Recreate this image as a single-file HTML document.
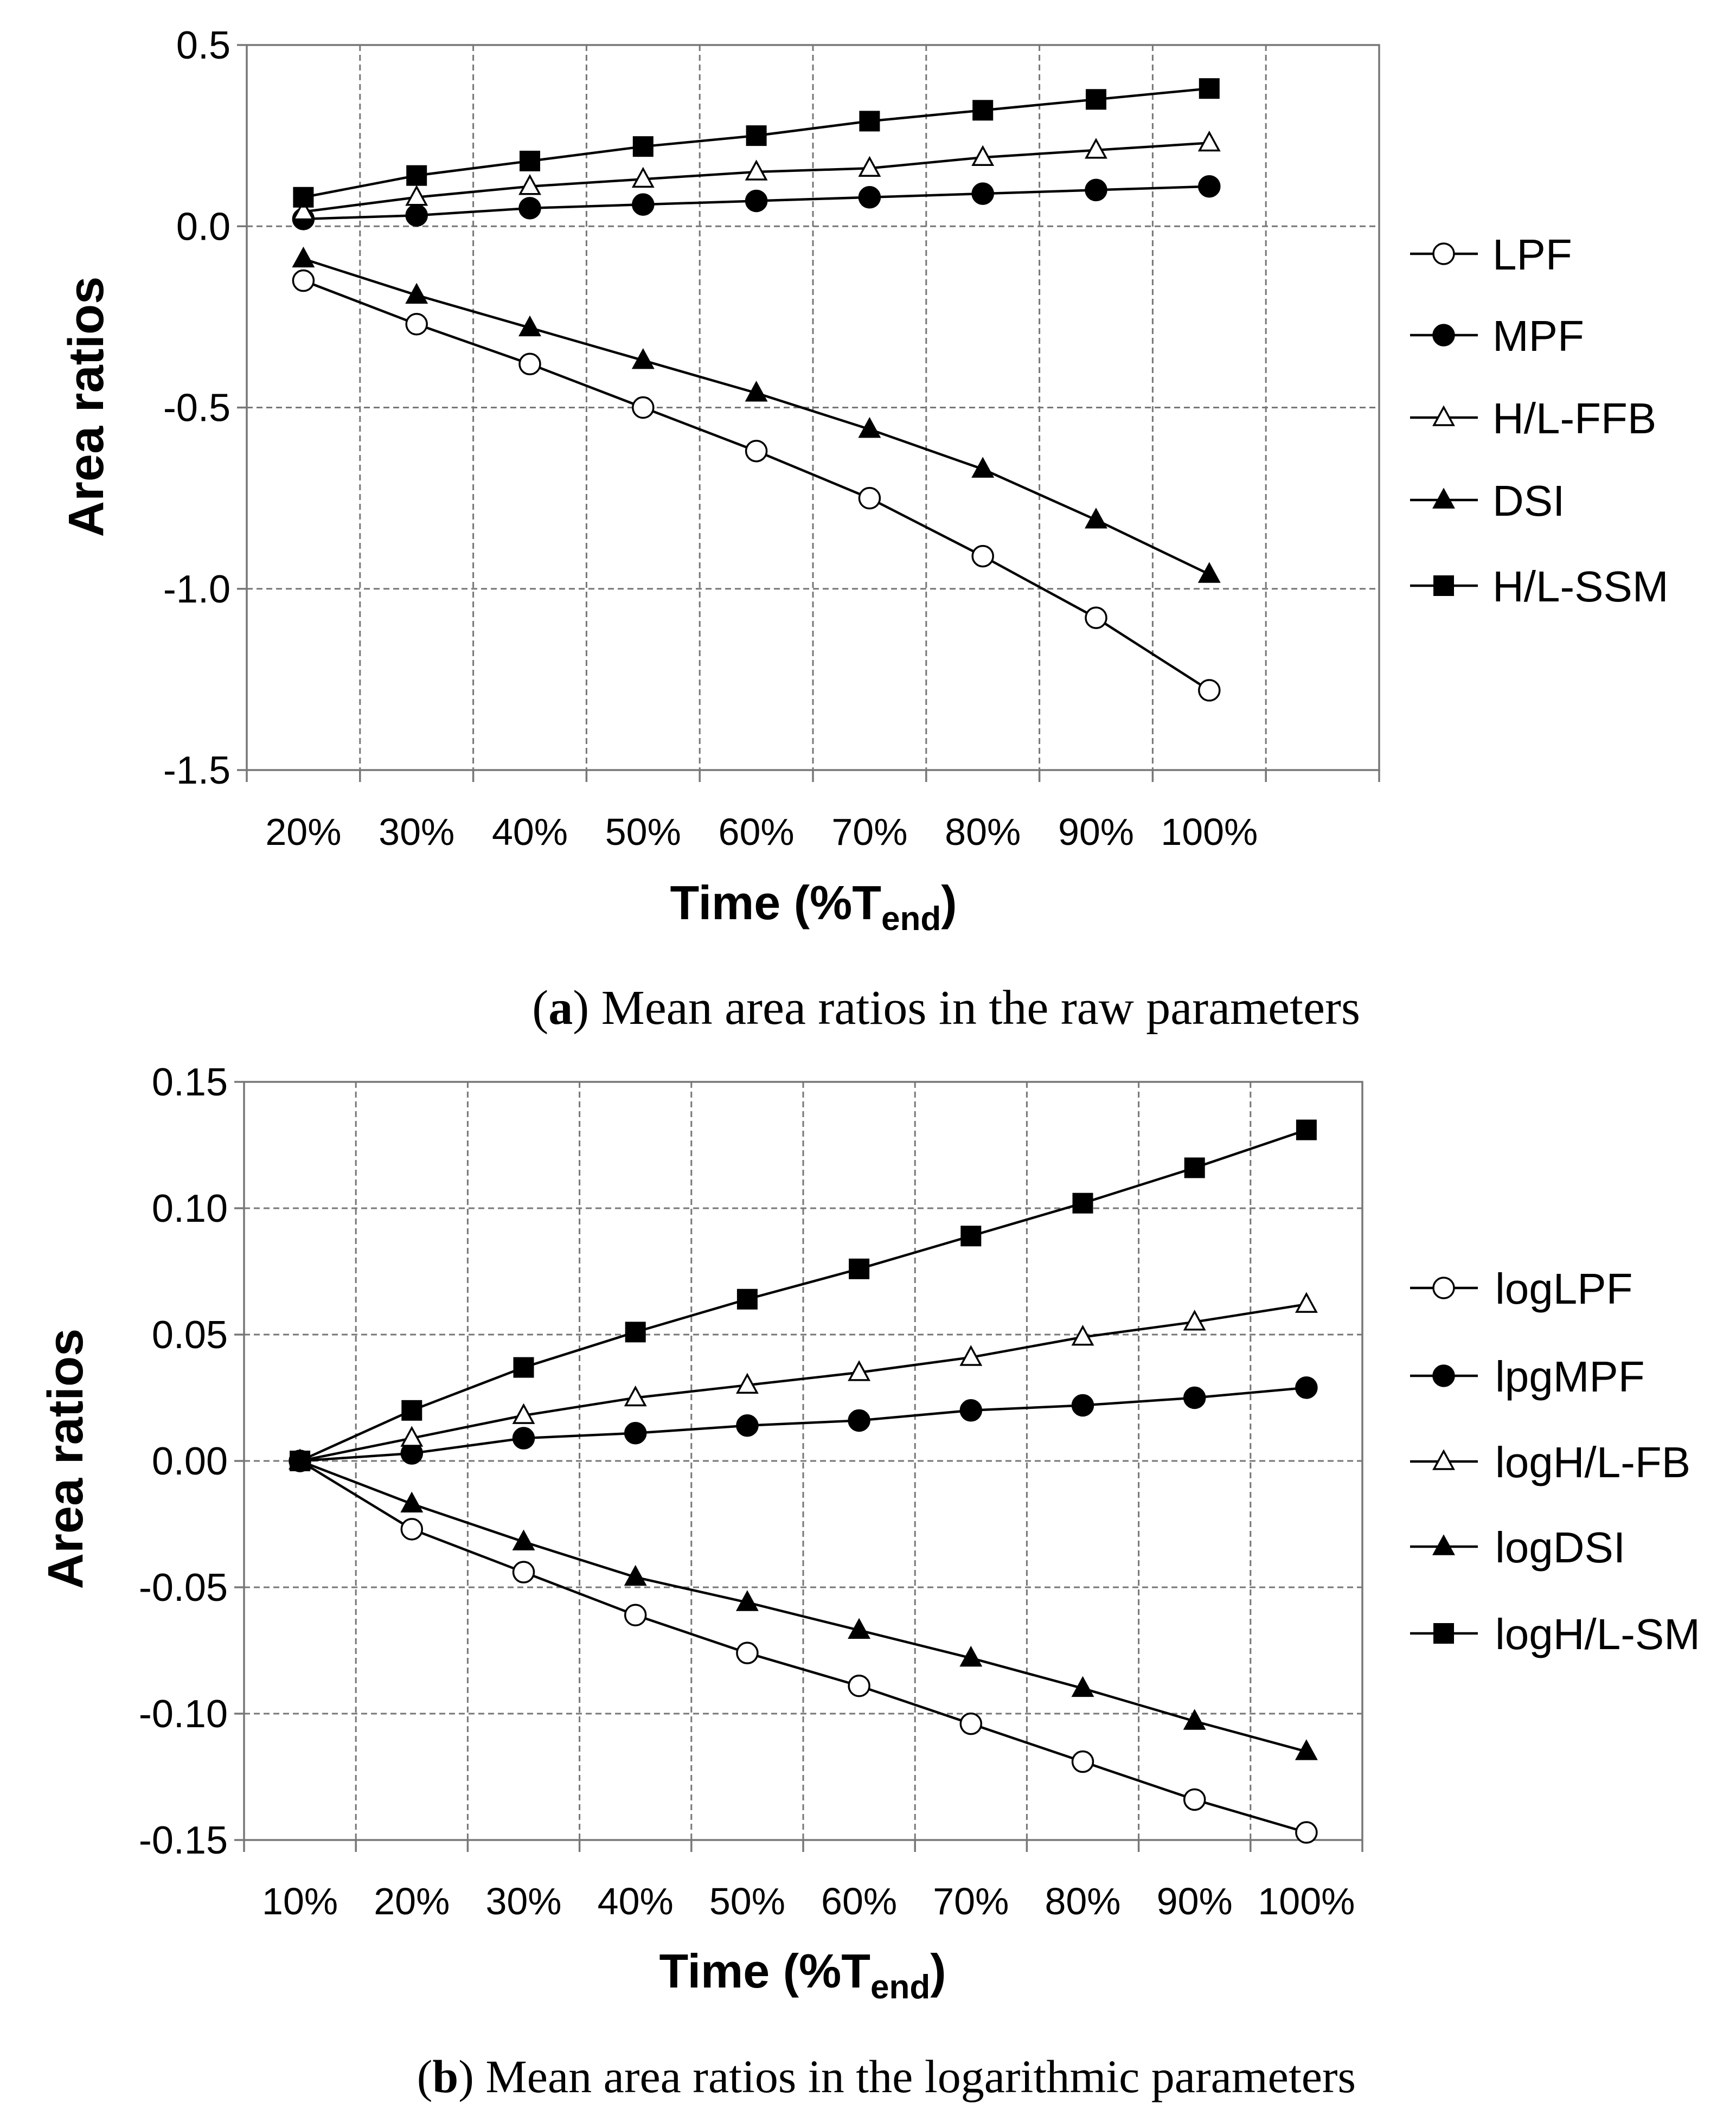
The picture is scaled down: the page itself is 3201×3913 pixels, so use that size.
<!DOCTYPE html>
<html><head><meta charset="utf-8"><style>
html,body{margin:0;padding:0;background:#fff;}
svg{display:block;}
text{font-family:"Liberation Sans",sans-serif;fill:#000;}
</style></head><body>
<svg id="fig" width="3201" height="3913" viewBox="0 0 3201 3913" xmlns="http://www.w3.org/2000/svg"></svg>
<script>
// ---- Chart (a) data ----
const catsA = ["20%","30%","40%","50%","60%","70%","80%","90%","100%"];
const yTicksA = [0.5,0.0,-0.5,-1.0,-1.5];
const yTickLabelsA = ["0.5","0.0","-0.5","-1.0","-1.5"];
const lpfA = [-0.15,-0.27,-0.38,-0.50,-0.62,-0.75,-0.91,-1.08,-1.28];
const mpfA = [0.02,0.03,0.05,0.06,0.07,0.08,0.09,0.10,0.11];
const ffbA = [0.04,0.08,0.11,0.13,0.15,0.16,0.19,0.21,0.23];
const dsiA = [-0.09,-0.19,-0.28,-0.37,-0.46,-0.56,-0.67,-0.81,-0.96];
const ssmA = [0.08,0.14,0.18,0.22,0.25,0.29,0.32,0.35,0.38];
const legendA = ["LPF","MPF","H/L-FFB","DSI","H/L-SSM"];
// ---- Chart (b) data ----
const catsB = ["10%","20%","30%","40%","50%","60%","70%","80%","90%","100%"];
const yTicksB = [0.15,0.10,0.05,0.00,-0.05,-0.10,-0.15];
const yTickLabelsB = ["0.15","0.10","0.05","0.00","-0.05","-0.10","-0.15"];
const lpfB = [0,-0.027,-0.044,-0.061,-0.076,-0.089,-0.104,-0.119,-0.134,-0.147];
const mpfB = [0,0.003,0.009,0.011,0.014,0.016,0.020,0.022,0.025,0.029];
const ffbB = [0,0.009,0.018,0.025,0.030,0.035,0.041,0.049,0.055,0.062];
const dsiB = [0,-0.017,-0.032,-0.046,-0.056,-0.067,-0.078,-0.090,-0.103,-0.115];
const ssmB = [0,0.020,0.037,0.051,0.064,0.076,0.089,0.102,0.116,0.131];
const legendB = ["logLPF","lpgMPF","logH/L-FB","logDSI","logH/L-SM"];

const NS="http://www.w3.org/2000/svg";
const svg=document.getElementById('fig');
function mk(tag,attrs,parent){const e=document.createElementNS(NS,tag);for(const k in attrs)e.setAttribute(k,attrs[k]);(parent||svg).appendChild(e);return e;}

function marker(g,kind,x,y){
  let e;
  if(kind==='oc'||kind==='fc'){e=mk('circle',{cx:x,cy:y,r:19,fill:kind==='oc'?'#fff':'#000',stroke:'#000','stroke-width':3.5},g);}
  else if(kind==='ot'||kind==='ft'){e=mk('polygon',{points:`${x},${y-19} ${x-18},${y+14} ${x+18},${y+14}`,fill:kind==='ot'?'#fff':'#000',stroke:'#000','stroke-width':3.5},g);}
  else {e=mk('rect',{x:x-19,y:y-19,width:38,height:38,fill:'#000'},g);}
  return e;
}

function chart(id,o){
  const g=mk('g',{});
  
  
  const L=o.left,R=o.right,T=o.top,B=o.bottom;
  const ymax=o.yTicks[0],ymin=o.yTicks[o.yTicks.length-1];
  const ys=v=>T+(ymax-v)/(ymax-ymin)*(B-T);
  const slot=(R-L)/o.nSlots;
  const xs=i=>L+slot*(i+0.5);
  o.yTicks.forEach((v,i)=>{
    const y=ys(v);
    if(i>0&&i<o.yTicks.length-1){const gl=mk('line',{x1:L,x2:R,y1:y,y2:y,stroke:'#777','stroke-width':3,'stroke-dasharray':'11,7'},g);}
    mk('line',{x1:L-18,x2:L,y1:y,y2:y,stroke:'#777','stroke-width':3.5},g);
    const t=mk('text',{x:L-30,y:y+25,'text-anchor':'end','font-size':72},g);t.textContent=o.yLabels[i];
    
  });
  for(let i=1;i<o.nSlots;i++){const x=L+slot*i;const gl=mk('line',{x1:x,x2:x,y1:T,y2:B,stroke:'#777','stroke-width':3,'stroke-dasharray':'11,7'},g);}
  for(let i=0;i<=o.nSlots;i++){const x=L+slot*i;mk('line',{x1:x,x2:x,y1:B,y2:B+22,stroke:'#777','stroke-width':3.5},g);}
  const frame=mk('rect',{x:L,y:T,width:R-L,height:B-T,fill:'none',stroke:'#777','stroke-width':3.5},g);
  
  o.cats.forEach((c,i)=>{const t=mk('text',{x:xs(i)+o.catOff,y:o.catY,'text-anchor':'middle','font-size':70},g);t.textContent=c;
    });
  const yt=mk('text',{x:0,y:0,'text-anchor':'middle','font-size':92,'font-weight':'bold',transform:`translate(${o.ytX},${o.ytY}) rotate(-90)`},g);
  yt.textContent='Area  ratios';yt.setAttribute('xml:space','preserve');
  
  const xt=mk('text',{x:o.xtX,y:o.xtY,'text-anchor':'middle','font-size':88,'font-weight':'bold'},g);
  xt.innerHTML='Time (%T<tspan font-size="62" dy="20">end</tspan><tspan dy="-20">)</tspan>';
  
  o.series.forEach((s,k)=>{
    const sg=mk('g',{},g);
    
    
    const pts=s.vals.map((v,i)=>xs(i)+','+ys(v)).join(' ');
    mk('polyline',{points:pts,fill:'none',stroke:'#000','stroke-width':4.5},sg);
    s.vals.forEach((v,i)=>{const m=marker(sg,s.kind,xs(i),ys(v));
      });
    const lg=mk('g',{},g);
    
    
    const ly=o.legY[k];
    mk('line',{x1:2600,x2:2725,y1:ly,y2:ly,stroke:'#000','stroke-width':4.5},lg);
    marker(lg,s.kind,2662,ly);
    const lt=mk('text',{x:o.legTX,y:ly+29,'font-size':80},lg);lt.textContent=o.legend[k];
  });
}

chart('chart-a',{left:455,right:2543,top:83,bottom:1420,nSlots:10,yTicks:yTicksA,yLabels:yTickLabelsA,cats:catsA,catOff:0,catY:1558,
  ytX:190,ytY:750,xtX:1500,xtY:1695,legend:legendA,legY:[468,618,770,922,1080],legTX:2752,
  series:[{vals:lpfA,kind:'oc'},{vals:mpfA,kind:'fc'},{vals:ffbA,kind:'ot'},{vals:dsiA,kind:'ft'},{vals:ssmA,kind:'sq'}]});
chart('chart-b',{left:450,right:2512,top:1995,bottom:3393,nSlots:10,yTicks:yTicksB,yLabels:yTickLabelsB,cats:catsB,catOff:0,catY:3530,
  ytX:152,ytY:2690,xtX:1480,xtY:3665,legend:legendB,legY:[2375,2537,2695,2852,3012],legTX:2757,
  series:[{vals:lpfB,kind:'oc'},{vals:mpfB,kind:'fc'},{vals:ffbB,kind:'ot'},{vals:dsiB,kind:'ft'},{vals:ssmB,kind:'sq'}]});

const ca=mk('text',{x:2508,y:1888,'text-anchor':'end','font-size':90,style:'font-family:"Liberation Serif",serif'});
ca.innerHTML='(<tspan font-weight="bold">a</tspan>) Mean area ratios in the raw parameters';

const cb=mk('text',{x:2500,y:3858,'text-anchor':'end','font-size':86,style:'font-family:"Liberation Serif",serif'});
cb.innerHTML='(<tspan font-weight="bold">b</tspan>) Mean area ratios in the logarithmic parameters';

</script>
</body></html>
